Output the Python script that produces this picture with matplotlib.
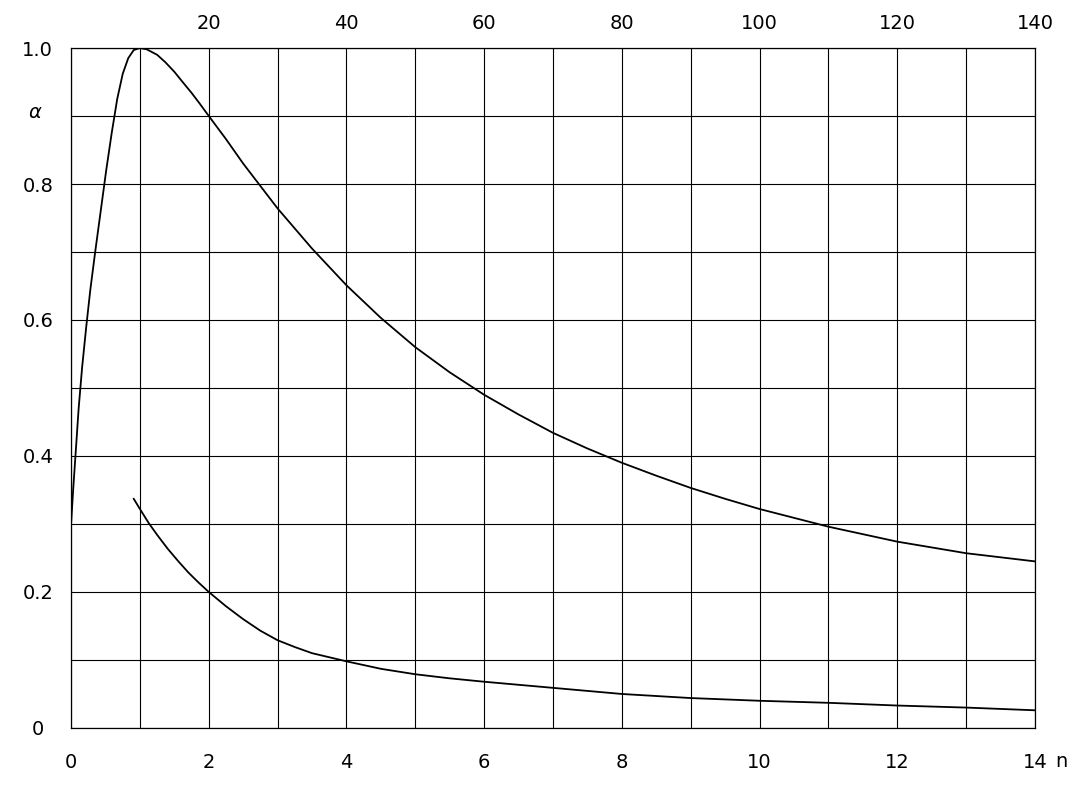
import matplotlib.pyplot as plt
import numpy as np

# upper curve
upper_n = [0.0, 0.03, 0.07, 0.11, 0.16, 0.22, 0.28, 0.35, 0.43, 0.51, 0.59,
           0.67, 0.75, 0.83, 0.91, 1.0, 1.1, 1.25, 1.37, 1.5, 1.62, 1.75,
           1.87, 2.0, 2.25, 2.5, 2.75, 3.0, 3.5, 4.0, 4.5, 5.0, 5.5, 6.0, 6.5,
           7.0, 7.5, 8.0, 8.5, 9.0, 9.5, 10.0, 11.0, 12.0, 13.0, 14.0]
upper_a = [0.30, 0.35, 0.41, 0.47, 0.53, 0.59, 0.645, 0.70, 0.76, 0.82, 0.875,
           0.925, 0.962, 0.985, 0.997, 1.0, 0.998, 0.99, 0.979, 0.965, 0.95,
           0.934, 0.918, 0.90, 0.866, 0.83, 0.797, 0.764, 0.705, 0.651, 0.603,
           0.56, 0.523, 0.49, 0.461, 0.434, 0.411, 0.39, 0.371, 0.353, 0.337,
           0.322, 0.296, 0.274, 0.257, 0.245]

# lower curve
lower_n = [0.91, 1.0, 1.13, 1.25, 1.4, 1.55, 1.7, 1.85, 2.0, 2.25, 2.5, 2.75,
           3.0, 3.25, 3.5, 3.75, 4.0, 4.5, 5.0, 5.5, 6.0, 7.0, 8.0, 9.0, 10.0,
           11.0, 12.0, 13.0, 14.0]
lower_a = [0.337, 0.322, 0.301, 0.284, 0.264, 0.246, 0.229, 0.214, 0.20, 0.179,
           0.160, 0.143, 0.129, 0.119, 0.110, 0.104, 0.098, 0.087, 0.079, 0.073,
           0.068, 0.059, 0.050, 0.044, 0.040, 0.037, 0.033, 0.030, 0.026]

x_ticks = [0, 2, 4, 6, 8, 10, 12, 14]
top_ticks = [20, 40, 60, 80, 100, 120, 140]
y_ticks = [0, 0.2, 0.4, 0.6, 0.8, 1.0]
y_tick_labels = ['0', '0.2', '0.4', '0.6', '0.8', '1.0']

plt.rcParams['font.family'] = 'DejaVu Sans'

fig = plt.figure(figsize=(10.77, 7.87), dpi=100)
ax = fig.add_axes([0.066, 0.075, 0.895, 0.864])

ax.plot(upper_n, upper_a, color='black', lw=1.3)
ax.plot(lower_n, lower_a, color='black', lw=1.3)

ax.set_xlim(0, 14)
ax.set_ylim(0, 1.0)

ax.set_xticks(x_ticks)
ax.set_xticks(np.arange(0, 15, 1), minor=True)
ax.set_yticks(y_ticks)
ax.set_yticklabels(y_tick_labels)
ax.set_yticks(np.arange(0, 1.01, 0.1), minor=True)
ax.grid(True, which='both', color='black', lw=0.8)
ax.tick_params(which='both', length=0, labelsize=14, colors='black')
ax.tick_params(axis='x', pad=18)
ax.tick_params(axis='y', pad=24)
for lab in ax.get_yticklabels():
    lab.set_ha('center')

for sp in ax.spines.values():
    sp.set_color('black')
    sp.set_linewidth(0.9)

top = ax.secondary_xaxis('top', functions=(lambda x: x * 10, lambda x: x / 10))
top.set_xticks(top_ticks)
top.tick_params(length=0, labelsize=14, pad=11)
top.spines['top'].set_visible(False)

ax.text(14.38, -0.05, 'n', fontsize=14, ha='center', va='center')
ax.text(-0.52, 0.905, r'$\alpha$', fontsize=14, ha='center', va='center')

fig.savefig('out.png', dpi=100)
